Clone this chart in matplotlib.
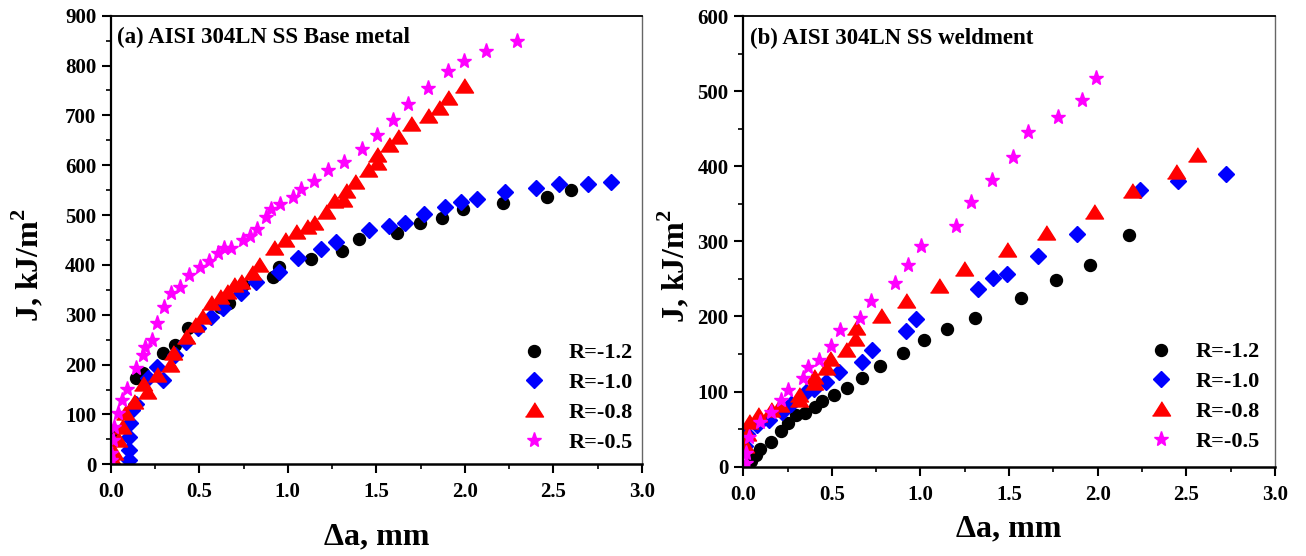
import matplotlib
matplotlib.use("Agg")
import matplotlib.pyplot as plt
from matplotlib.ticker import MultipleLocator

plt.rcParams['font.family'] = ['Liberation Serif', 'DejaVu Serif']
plt.rcParams['font.weight'] = 'bold'
plt.rcParams['mathtext.fontset'] = 'custom'
plt.rcParams['mathtext.rm'] = 'Liberation Serif:bold'
plt.rcParams['mathtext.bf'] = 'Liberation Serif:bold'

# ---- (a) base metal: crack extension (mm) vs J (kJ/m^2) ----
a_r12_x = [0.01, 0.141, 0.182, 0.293, 0.363, 0.434, 0.615, 0.666, 0.747, 0.918, 0.948,
           1.130, 1.306, 1.402, 1.618, 1.745, 1.873, 1.992, 2.214, 2.462, 2.599]
a_r12_y = [55, 173, 183, 223, 239, 273, 316, 323, 360, 376, 396,
           411, 428, 451, 465, 484, 495, 512, 524, 537, 550]

a_r10_x = [0.101, 0.101, 0.101, 0.111, 0.121, 0.141, 0.212, 0.262, 0.293, 0.363, 0.424,
           0.494, 0.565, 0.636, 0.737, 0.818, 0.948, 1.059, 1.190, 1.271, 1.457, 1.574,
           1.665, 1.769, 1.887, 1.977, 2.068, 2.225, 2.405, 2.532, 2.694, 2.825, 3.05]
a_r10_y = [9, 29, 55, 82, 109, 122, 173, 196, 169, 219, 246,
           273, 296, 313, 343, 366, 386, 413, 431, 445, 470, 478,
           484, 502, 516, 527, 532, 546, 554, 562, 562, 567, 566]

a_r08_x = [0.02, 0.02, 0.041, 0.061, 0.081, 0.131, 0.182, 0.202, 0.262, 0.333, 0.353,
           0.424, 0.474, 0.515, 0.565, 0.615, 0.656, 0.696, 0.737, 0.797, 0.837, 0.922,
           0.985, 1.045, 1.110, 1.150, 1.217, 1.261, 1.312, 1.328, 1.382, 1.453, 1.503,
           1.503, 1.574, 1.624, 1.695, 1.792, 1.857, 1.907, 1.998]
a_r08_y = [4, 22, 49, 75, 102, 126, 162, 146, 179, 199, 223,
           256, 280, 296, 323, 336, 346, 360, 366, 383, 400, 433,
           450, 467, 477, 485, 507, 528, 530, 549, 567, 590, 604,
           621, 641, 656, 683, 699, 714, 734, 758]

a_r05_x = [0.0, 0.0, 0.010, 0.020, 0.041, 0.061, 0.091, 0.141, 0.182, 0.192, 0.232,
           0.262, 0.303, 0.343, 0.394, 0.444, 0.505, 0.555, 0.606, 0.642, 0.682, 0.747,
           0.787, 0.827, 0.878, 0.904, 0.959, 1.029, 1.073, 1.150, 1.225, 1.320, 1.419,
           1.503, 1.594, 1.679, 1.792, 1.907, 1.998, 2.122, 2.296]
a_r05_y = [8, 23, 49, 75, 102, 129, 152, 193, 219, 236, 249,
           283, 316, 343, 356, 380, 396, 407, 423, 433, 433, 450,
           458, 473, 497, 512, 522, 537, 552, 569, 590, 607, 632,
           661, 691, 722, 754, 789, 809, 830, 850]

# ---- (b) weldment ----
b_r12_x = [0.044, 0.074, 0.094, 0.159, 0.215, 0.252, 0.296, 0.346, 0.407, 0.447, 0.514,
           0.588, 0.669, 0.769, 0.901, 1.021, 1.148, 1.308, 1.565, 1.763, 1.954, 2.176]
b_r12_y = [7, 16, 24, 33, 47, 58, 69, 72, 80, 87, 95,
           105, 118, 134, 151, 169, 183, 198, 225, 248, 269, 309]

b_r10_x = [0.01, 0.02, 0.076, 0.147, 0.217, 0.267, 0.356, 0.401, 0.467, 0.538, 0.669,
           0.729, 0.920, 0.977, 1.324, 1.409, 1.489, 1.663, 1.884, 2.241, 2.453, 2.725]
b_r10_y = [27, 44, 56, 62, 73, 84, 100, 104, 113, 126, 140,
           156, 180, 196, 237, 251, 257, 281, 310, 369, 380, 390]

b_r08_x = [0.01, 0.024, 0.034, 0.084, 0.155, 0.205, 0.312, 0.316, 0.397, 0.401, 0.467,
           0.487, 0.578, 0.628, 0.638, 0.779, 0.920, 1.106, 1.243, 1.489, 1.710, 1.979,
           2.194, 2.442, 2.563]
b_r08_y = [27, 44, 60, 69, 75, 82, 89, 95, 111, 120, 132,
           143, 155, 170, 184, 201, 220, 241, 263, 288, 311, 339,
           367, 393, 415]

b_r05_x = [0.014, 0.014, 0.034, 0.094, 0.155, 0.215, 0.252, 0.337, 0.366, 0.427, 0.493,
           0.548, 0.659, 0.719, 0.854, 0.927, 1.005, 1.199, 1.283, 1.404, 1.521, 1.606,
           1.777, 1.914, 1.989]
b_r05_y = [5, 18, 40, 60, 73, 89, 102, 118, 133, 142, 161,
           182, 198, 220, 244, 269, 294, 320, 353, 382, 412, 445,
           466, 488, 518]

series_labels = ['R=-1.2', 'R=-1.0', 'R=-0.8', 'R=-0.5']
x_ticks = [0.0, 0.5, 1.0, 1.5, 2.0, 2.5, 3.0]

tri = [(-1.0, -0.72), (1.0, -0.72), (0.0, 0.86)]
styles = [
    dict(marker='o', color='black', ms=8.6),
    dict(marker='D', color='#0000FF', ms=8.0),
    dict(marker=tri, color='#FF0000', ms=13.0),
    dict(marker='*', color='#FF00FF', ms=11.0),
]

fig = plt.figure(figsize=(13.06, 5.56), dpi=100)
ax_a = fig.add_axes([0.0848, 0.1649, 0.4066, 0.8069])
ax_b = fig.add_axes([0.5691, 0.1606, 0.4071, 0.8106])


def draw_panel(ax, xs, ys, ymax, ymajor, title, ylab_x, xlab_y, leg_anchor):
    for x, y, lab, st in zip(xs, ys, series_labels, styles):
        ax.plot(x, y, linestyle='none', marker=st['marker'], ms=st['ms'],
                color=st['color'], markeredgecolor=st['color'], label=lab)
    ax.set_xlim(0, 3.0)
    ax.set_ylim(0, ymax)
    ax.set_xticks(x_ticks)
    ax.set_xticklabels(['%.1f' % v for v in x_ticks])
    ax.xaxis.set_minor_locator(MultipleLocator(0.25))
    ax.yaxis.set_major_locator(MultipleLocator(ymajor))
    ax.yaxis.set_minor_locator(MultipleLocator(ymajor / 2))
    ax.tick_params(axis='both', which='major', direction='out', length=6.5, width=1.5,
                   labelsize=15, top=False, right=False)
    ax.tick_params(axis='x', which='major', pad=6.5)
    ax.tick_params(axis='y', which='major', pad=4)
    ax.tick_params(axis='both', which='minor', direction='out', length=3.5, width=1.2,
                   top=False, right=False)
    for lbl in ax.get_xticklabels() + ax.get_yticklabels():
        lbl.set_fontweight('bold')
    ax.spines['left'].set_linewidth(1.6)
    ax.spines['bottom'].set_linewidth(1.8)
    ax.spines['top'].set_linewidth(1.3)
    ax.spines['right'].set_linewidth(1.0)
    ax.spines['right'].set_color('#666666')
    ax.text(0.012, 0.951, title, transform=ax.transAxes, fontsize=16.5,
            fontweight='bold', ha='left', va='center')
    ax.text(ylab_x, 0.445, r'J, kJ/m$^\mathbf{2}$', transform=ax.transAxes, rotation=90,
            fontsize=23, fontweight='bold', ha='center', va='center')
    ax.text(0.5, xlab_y, '\u0394a, mm', transform=ax.transAxes, fontsize=23,
            fontweight='bold', ha='center', va='center')
    ax.legend(loc='center left', bbox_to_anchor=leg_anchor, frameon=False,
              prop={'family': 'Liberation Serif', 'weight': 'bold', 'size': 16},
              handlelength=1.0, handletextpad=1.05, labelspacing=0.42,
              borderpad=0.0, borderaxespad=0.0, numpoints=1)


draw_panel(ax_a, [a_r12_x, a_r10_x, a_r08_x, a_r05_x],
           [a_r12_y, a_r10_y, a_r08_y, a_r05_y], 900, 100,
           '(a) AISI 304LN SS Base metal', -0.156, -0.162, (0.776, 0.148))
draw_panel(ax_b, [b_r12_x, b_r10_x, b_r08_x, b_r05_x],
           [b_r12_y, b_r10_y, b_r08_y, b_r05_y], 600, 100,
           '(b) AISI 304LN SS weldment', -0.130, -0.138, (0.765, 0.155))

fig.savefig('out.png', dpi=100)
